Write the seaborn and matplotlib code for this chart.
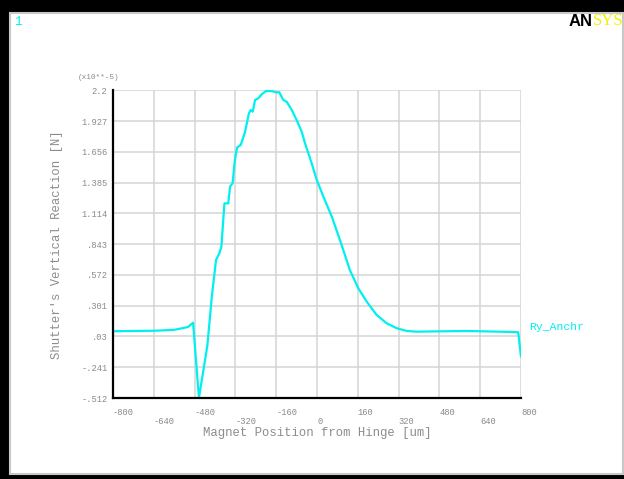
import numpy as np
import pandas as pd
import matplotlib
matplotlib.use("Agg")
import matplotlib.pyplot as plt
from matplotlib.patches import Rectangle
import seaborn as sns

# values (x in um, y in 1e-5 N)
position = [-800, -640, -560, -506, -486, -463, -430, -412, -396, -383, -375, -363,
            -348, -341, -331, -322, -313, -299, -282, -267, -260, -252, -243, -230,
            -217, -200, -178, -161, -148, -132, -119, -99, -80, -60, -47, -21, -1,
            25, 58, 90, 129, 162, 195, 234, 273, 313, 352, 391, 480, 587, 718, 789, 800]
reaction = [0.076, 0.080, 0.088, 0.113, 0.151, -0.512, -0.05, 0.39, 0.703, 0.762, 0.820, 1.202,
            1.202, 1.349, 1.379, 1.584, 1.695, 1.716, 1.833, 1.995, 2.024, 2.009, 2.112, 2.127,
            2.162, 2.191, 2.191, 2.180, 2.180, 2.112, 2.097, 2.024, 1.936, 1.833, 1.731, 1.555, 1.408,
            1.261, 1.085, 0.879, 0.614, 0.454, 0.336, 0.219, 0.146, 0.102, 0.078, 0.072, 0.075, 0.078, 0.072, 0.067, -0.148]

x_ticks = [-800, -640, -480, -320, -160, 0, 160, 320, 480, 640, 800]
y_ticks = [-0.512, -0.241, 0.03, 0.301, 0.572, 0.843, 1.114, 1.385, 1.656, 1.927, 2.2]
y_labels = ["-.512", "-.241", ".03", ".301", ".572", ".843", "1.114", "1.385", "1.656", "1.927", "2.2"]

df = pd.DataFrame({"pos": position, "ry": reaction})

sns.set_style("white")
plt.rcParams["font.family"] = ["Liberation Mono", "DejaVu Sans Mono"]

fig = plt.figure(figsize=(6.24, 4.79), dpi=100)
fig.patch.set_facecolor("black")
# white panel with a light grey rim
fig.patches.append(Rectangle((10 / 624, 1 - 474 / 479), 613 / 624, 461 / 479,
                             transform=fig.transFigure, facecolor="white",
                             edgecolor="#c8c8c8", linewidth=1.5, zorder=-5))

ax = fig.add_axes([113 / 624, 1 - 398 / 479, 408 / 624, 308 / 479])
ax.set_facecolor("white")

sns.lineplot(data=df, x="pos", y="ry", ax=ax, color="#00f0f0", linewidth=1.6,
             sort=False, zorder=3)

ax.set_xlim(-800, 800)
ax.set_ylim(-0.512, 2.2)
ax.set_xticks(x_ticks)
ax.set_xticklabels([("\n" if i % 2 else "") + str(v) for i, v in enumerate(x_ticks)],
                   ha="left")
for lbl in ax.get_xticklabels():
    lbl.set_linespacing(1.0)
ax.set_yticks(y_ticks)
ax.set_yticklabels(y_labels)

ax.grid(True, color="#d4d4d4", linewidth=1.1)
for side in ["top", "right"]:
    ax.spines[side].set_visible(False)
for side in ["left", "bottom"]:
    ax.spines[side].set_color("black")
    ax.spines[side].set_linewidth(1.6)
    ax.spines[side].set_zorder(4)

ax.tick_params(axis="x", direction="out", length=3, width=0.8, color="#909090",
               labelsize=6.3, labelcolor="#8a8a8a", pad=4.5)
ax.tick_params(axis="y", direction="out", length=3, width=0.8, color="#505050",
               labelsize=6.3, labelcolor="#8a8a8a", pad=1)

ax.set_xlabel("Magnet Position from Hinge [um]", fontsize=8.8, color="#8c8c8c")
ax.set_ylabel("Shutter's Vertical Reaction [N]", fontsize=8.8, color="#8c8c8c")
ax.xaxis.set_label_coords(0.5, -0.094)
ax.yaxis.set_label_coords(-0.122, 0.497)

ax.text(-0.086, 1.039, "(x10**-5)", transform=ax.transAxes, fontsize=5.6,
        color="#8a8a8a", ha="left", va="center")
ax.text(1.02, 0.23, "Ry_Anchr", transform=ax.transAxes, fontsize=8.2,
        color="#00f0f0", ha="left", va="center")

fig.text(14 / 624, 1 - 22 / 479, "1", fontsize=9, color="#00f0f0", ha="left", va="center")
fig.text(593 / 624, 1 - 21 / 479, "AN", fontsize=12, fontweight="bold", color="black",
         fontfamily=["Liberation Sans"], ha="right", va="center")
fig.text(593 / 624, 1 - 21 / 479, "SYS", fontsize=12, color="#f5f000",
         fontfamily=["Liberation Serif"], ha="left", va="center")

fig.savefig("out.png", dpi=100, facecolor=fig.get_facecolor())
